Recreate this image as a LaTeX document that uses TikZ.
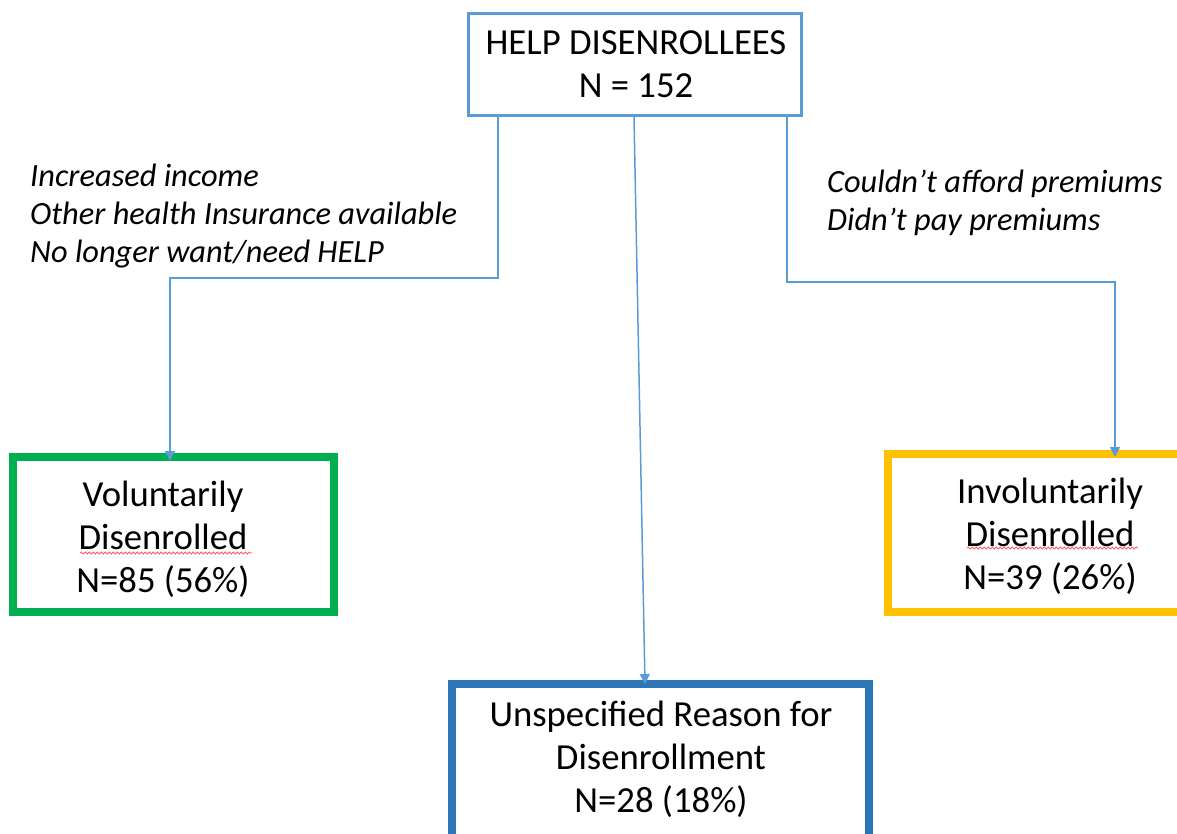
\documentclass[tikz,border=0pt]{standalone}
\usepackage{fontspec}
\setmainfont{Carlito}
\usetikzlibrary{arrows.meta,decorations.pathmorphing}
\definecolor{lblue}{HTML}{5B9BD5}
\definecolor{dblue}{HTML}{2E75B6}
\definecolor{grn}{HTML}{00B050}
\definecolor{ylw}{HTML}{FFC000}
\definecolor{squig}{HTML}{FF6060}
\begin{document}
\begin{tikzpicture}[x=1pt,y=-1pt,
  box/.style={draw, rectangle, inner sep=0pt, fill=white},
  txt/.style={align=center, font=\fontsize{36.7}{43}\selectfont, inner sep=0pt},
  lab/.style={align=left, anchor=west, font=\fontsize{32.4}{38}\selectfont\itshape, inner sep=0pt},
  conn/.style={draw=lblue, line width=1.5pt, -{Triangle[length=10pt,width=10pt]}},
  squiggle/.style={draw=squig, line width=0.8pt, decorate, decoration={snake, amplitude=1pt, segment length=4pt}}
]
\useasboundingbox (0,0) rectangle (1177,834);
\clip (0,0) rectangle (1177,834);

% boxes
\node[box, draw=lblue, line width=3.5pt, minimum width=333pt, minimum height=102pt] (top) at (635,64.5) {};
\node[box, draw=grn, line width=8pt, minimum width=321pt, minimum height=155pt] (vbox) at (173.5,534.5) {};
\node[box, draw=ylw, line width=8pt, minimum width=310pt, minimum height=158pt] (ibox) at (1043,533) {};
\node[box, draw=dblue, line width=8pt, minimum width=417pt, minimum height=170pt] (ubox) at (660.5,769) {};

% box texts
\node[txt] (toptxt) at (636,64) {HELP DISENROLLEES\\N = 152};
\node[txt] (vtxt) at (163,539) {Voluntarily\\Disenrolled\\N=85 (56\%)};
\node[txt] (itxt) at (1050,536) {Involuntarily\\Disenrolled\\N=39 (26\%)};
\node[txt] (utxt) at (661,759.5) {Unspecified Reason for\\Disenrollment\\N=28 (18\%)};

% spell-check squiggles
\draw[squiggle] (80,553) -- (252,553);
\draw[squiggle] (967,548) -- (1138,548);

% labels
\node[lab] (vlab) at (30,216) {Increased income\\Other health Insurance available\\No longer want/need HELP};
\node[lab] (ilab) at (827,202.5) {Couldn’t afford premiums\\Didn’t pay premiums};

% connectors
\coordinate (vc) at (170,278);
\coordinate (ic) at (1115,282);
\draw[conn] ([xshift=-137pt]top.south) |- (vc) -- ([yshift=-8pt]vc |- vbox.north);
\draw[conn] ([xshift=-1pt]top.south) -- ([xshift=-15.5pt,yshift=-4pt]ubox.north);
\draw[conn] ([xshift=152pt]top.south) |- (ic) -- ([yshift=-7pt]ic |- ibox.north);
\end{tikzpicture}
\end{document}
